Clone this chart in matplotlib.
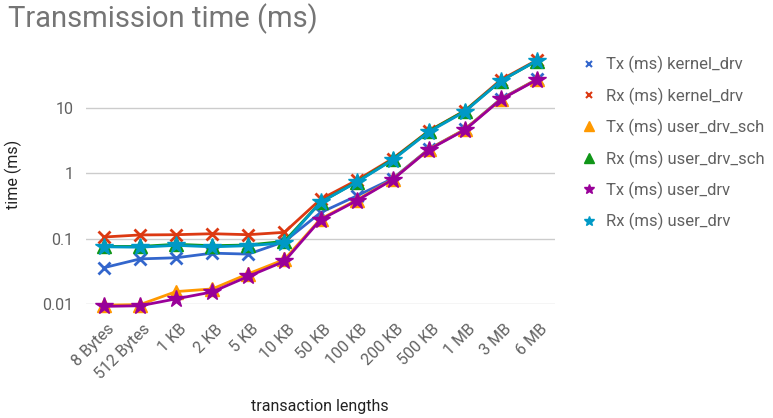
import numpy as np
import matplotlib.pyplot as plt
from matplotlib.lines import Line2D
from matplotlib.transforms import ScaledTranslation

plt.rcParams['font.family'] = ['Roboto', 'DejaVu Sans']

lengths = ['8 Bytes', '512 Bytes', '1 KB', '2 KB', '5 KB', '10 KB', '50 KB',
           '100 KB', '200 KB', '500 KB', '1 MB', '3 MB', '6 MB']

tx_kernel = [0.036, 0.049, 0.051, 0.060, 0.058, 0.090, 0.25, 0.45, 0.83, 2.35, 4.7, 13.8, 27.5]
rx_kernel = [0.106, 0.114, 0.115, 0.119, 0.115, 0.125, 0.40, 0.78, 1.68, 4.45, 9.1, 27.0, 54.0]
tx_user_sch = [0.0096, 0.0098, 0.0155, 0.017, 0.029, 0.048, 0.20, 0.39, 0.81, 2.33, 4.7, 13.6, 27.5]
rx_user_sch = [0.076, 0.076, 0.082, 0.078, 0.080, 0.091, 0.36, 0.74, 1.63, 4.4, 9.0, 26.0, 53.0]
tx_user = [0.0092, 0.0094, 0.012, 0.0153, 0.0265, 0.045, 0.195, 0.38, 0.80, 2.3, 4.6, 13.5, 27.0]
rx_user = [0.075, 0.074, 0.079, 0.075, 0.078, 0.086, 0.36, 0.73, 1.60, 4.3, 8.8, 26.0, 53.0]

series = [
    ('Tx (ms) kernel_drv', tx_kernel, '#3366cc', 'x', 8),
    ('Rx (ms) kernel_drv', rx_kernel, '#dc3912', 'x', 8),
    ('Tx (ms) user_drv_sch', tx_user_sch, '#ff9900', '^', 10),
    ('Rx (ms) user_drv_sch', rx_user_sch, '#109618', '^', 10),
    ('Tx (ms) user_drv', tx_user, '#990099', '*', 13),
    ('Rx (ms) user_drv', rx_user, '#0099c6', '*', 13),
]

fig = plt.figure(figsize=(7.73, 4.18), dpi=100)
ax = fig.add_axes([86 / 773, (418 - 304) / 418, (555 - 86) / 773, (304 - 45) / 418])

x = np.arange(len(lengths))
handles = []
for name, vals, col, mk, ms in series:
    ax.plot(x, vals, color=col, lw=2, marker=mk, markersize=ms, clip_on=False,
            markeredgewidth=2 if mk == 'x' else 1)
    handles.append(Line2D([], [], color=col, marker=mk, linestyle='none',
                          markersize=7 if mk != 'x' else 5, markeredgewidth=1.5 if mk == 'x' else 1,
                          label=name))

ax.set_yscale('log')
ax.set_ylim(0.01, 92)
ax.set_xlim(-0.5, len(lengths) - 0.5)
ax.set_yticks([0.01, 0.1, 1, 10])
ax.set_yticklabels(['0.01', '0.1', '1', '10'])
ax.minorticks_off()
ax.set_xticks(x)
ax.set_xticklabels(lengths, rotation=45, ha='right', va='center', rotation_mode='anchor')
ax.tick_params(axis='x', length=0, pad=16.5, labelsize=11.5, labelcolor='#616161')
ax.tick_params(axis='y', length=0, pad=9, labelsize=11.5, labelcolor='#616161')
shift = ScaledTranslation(0.08, 0, fig.dpi_scale_trans)
for lab in ax.get_xticklabels():
    lab.set_transform(lab.get_transform() + shift)
ax.grid(axis='y', color='#cccccc', lw=1)
ax.set_axisbelow(True)
for s in ax.spines.values():
    s.set_visible(False)

ax.set_ylabel('time (ms)', fontsize=11.5, color='#222222', labelpad=15)
fig.text(320 / 773, 1 - 407 / 418, 'transaction lengths', fontsize=11.5, color='#222222',
         ha='center', va='center')
fig.text(8 / 773, 1 - 19 / 418, 'Transmission time (ms)', fontsize=21, color='#757575',
         ha='left', va='center')

fig.legend(handles=handles, loc='upper left', bbox_to_anchor=(566 / 773, 1 - 41 / 418),
           frameon=False, fontsize=12, labelcolor='#616161', handlelength=1,
           handletextpad=0.5, labelspacing=0.85)

fig.savefig('out.png', dpi=100)
